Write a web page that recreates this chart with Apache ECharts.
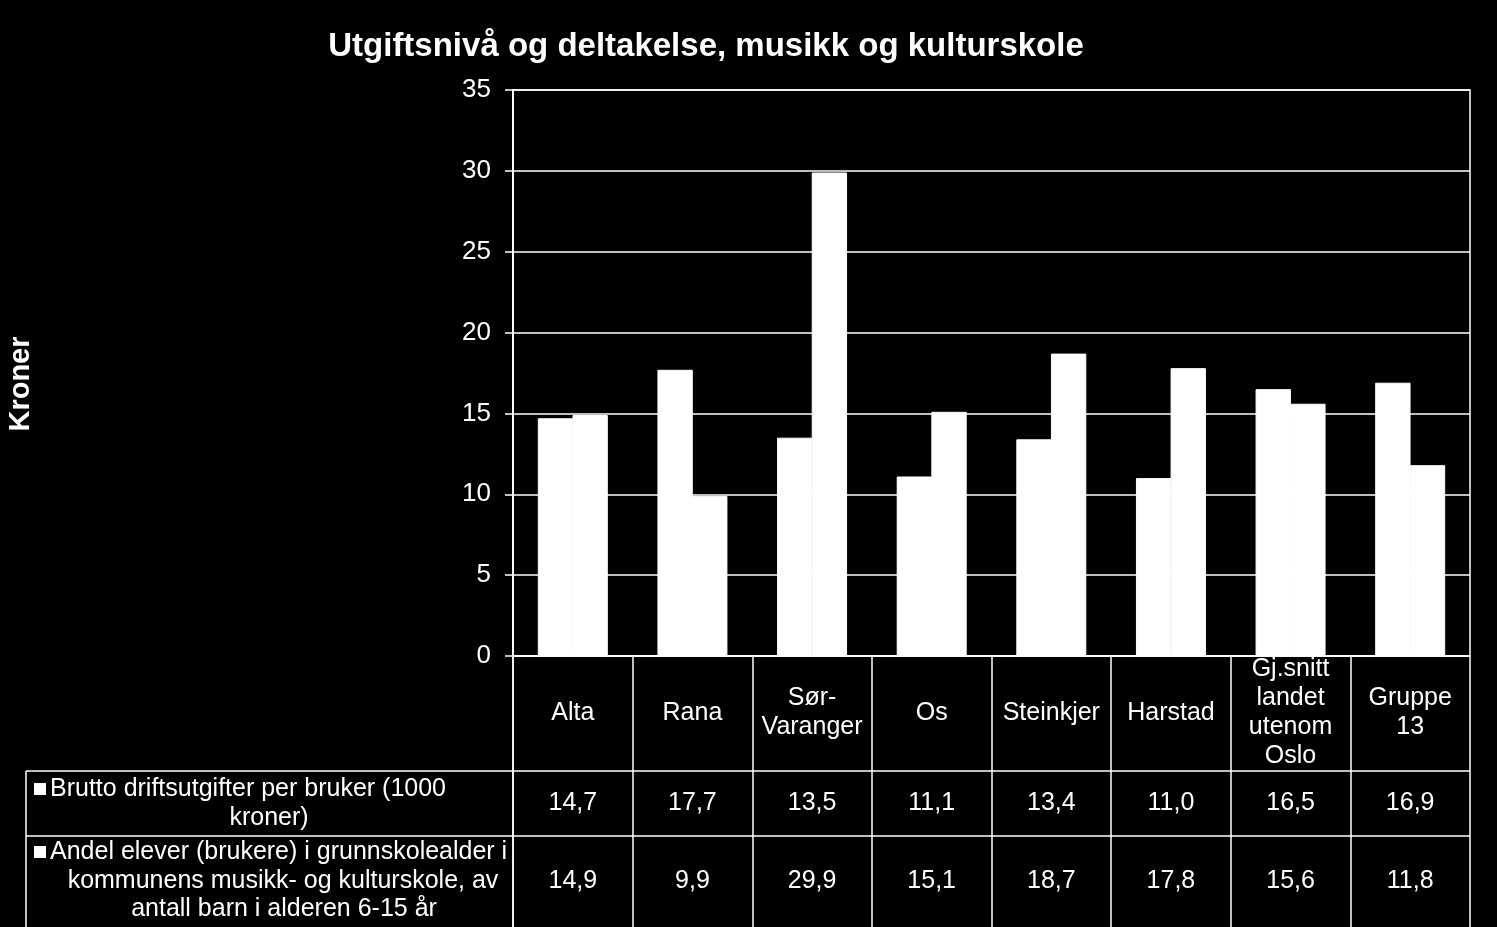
<!DOCTYPE html>
<html>
<head>
<meta charset="utf-8">
<script src="https://cdn.jsdelivr.net/npm/echarts@6/dist/echarts.min.js"></script>
<style>
html,body{margin:0;padding:0;background:#000;}
#c{width:1497px;height:927px;}
</style>
</head>
<body>
<div id="c"></div>
<script>
const categories = ['Alta', 'Rana', 'Sør-\nVaranger', 'Os', 'Steinkjer', 'Harstad', 'Gj.snitt\nlandet\nutenom\nOslo', 'Gruppe\n13'];
const series1Name = 'Brutto driftsutgifter per bruker (1000 kroner)';
const series1 = [14.7, 17.7, 13.5, 11.1, 13.4, 11.0, 16.5, 16.9];
const series2Name = 'Andel elever (brukere) i grunnskolealder i kommunens musikk- og kulturskole, av antall barn i alderen 6-15 år';
const series2 = [14.9, 9.9, 29.9, 15.1, 18.7, 17.8, 15.6, 11.8];
const yTicks = [0, 5, 10, 15, 20, 25, 30, 35];

const FONT = '"Liberation Sans", Arial, sans-serif';
const FS = 25;
const fmt = v => v.toFixed(1).replace('.', ',');

const G = {left: 513, top: 90, width: 957, height: 566};
const chart = echarts.init(document.getElementById('c'));

function hiddenAxisLabels(data, gridIndex, margin) {
  return {
    type: 'category', gridIndex: gridIndex, data: data, position: 'bottom',
    axisLine: {show: false}, axisTick: {show: false}, splitLine: {show: false},
    axisLabel: {color: '#fff', fontFamily: FONT, fontSize: FS, margin: margin,
      verticalAlign: 'middle', lineHeight: 29, interval: 0}
  };
}

const barStyle = {color: '#fff', borderColor: '#fff', borderWidth: 1};

const option = {
  backgroundColor: '#000',
  animation: false,
  title: {
    text: 'Utgiftsnivå og deltakelse, musikk og kulturskole',
    left: 701, top: 25, textAlign: 'center',
    textStyle: {color: '#fff', fontFamily: FONT, fontWeight: 'bold', fontSize: 33}
  },
  grid: [
    {left: G.left, top: G.top, width: G.width, height: G.height, show: true,
     borderColor: '#fff', borderWidth: 1.5, backgroundColor: 'transparent'},
    {left: G.left, top: G.top + G.height, width: G.width, height: 927 - G.top - G.height + 5}
  ],
  xAxis: [
    {
      type: 'category', gridIndex: 0, data: categories,
      axisLine: {show: true, lineStyle: {color: '#fff', width: 1.5}},
      axisTick: {show: false},
      axisLabel: {color: '#fff', fontFamily: FONT, fontSize: FS, margin: 57,
        verticalAlign: 'middle', lineHeight: 29, interval: 0}
    },
    hiddenAxisLabels(series1.map(fmt), 0, 147),
    hiddenAxisLabels(series2.map(fmt), 0, 225),
    {
      type: 'category', gridIndex: 1, data: categories,
      axisLine: {show: false}, axisTick: {show: false}, axisLabel: {show: false},
      splitLine: {show: true, interval: 0, lineStyle: {color: '#fff', width: 1.5}}
    }
  ],
  yAxis: [
    {
      type: 'value', gridIndex: 0, min: 0, max: 35, interval: 5,
      axisLine: {show: true, lineStyle: {color: '#fff', width: 2}},
      axisTick: {show: true, length: 8, lineStyle: {color: '#fff', width: 1.5}},
      axisLabel: {color: '#fff', fontFamily: FONT, fontSize: 26, margin: 22,
        formatter: v => yTicks.includes(v) ? String(v) : ''},
      splitLine: {show: true, lineStyle: {color: '#fff', width: 1.5}}
    },
    {
      type: 'value', gridIndex: 1, min: 0, max: 1,
      axisLine: {show: true, lineStyle: {color: '#fff', width: 1.5}},
      axisTick: {show: false}, axisLabel: {show: false}, splitLine: {show: false}
    }
  ],
  series: [
    {name: series1Name, type: 'bar', xAxisIndex: 0, yAxisIndex: 0, data: series1,
     barGap: '-2%', barCategoryGap: '41.5%', itemStyle: barStyle},
    {name: series2Name, type: 'bar', xAxisIndex: 0, yAxisIndex: 0, data: series2,
     barGap: '-2%', barCategoryGap: '41.5%', itemStyle: barStyle}
  ],
  graphic: []
};

chart.setOption(option);

// Table rules, row headers and axis title (layout only)
const right = G.left + G.width;
const rowY1 = 771, rowY2 = 836, leftX = 26;
const lineStyle = {stroke: '#fff', lineWidth: 1.5};
const txt = (t, x, y, align) => ({type: 'text', x: x, y: y,
  style: {text: t, fill: '#fff', font: FS + 'px ' + FONT, textAlign: align, textVerticalAlign: 'middle'}});
const sq = (y) => ({type: 'rect', shape: {x: 34, y: y - 6, width: 12, height: 12}, style: {fill: '#fff'}});
const s1Lines = ['Brutto driftsutgifter per bruker (1000', 'kroner)'];
const s2Lines = ['Andel elever (brukere) i grunnskolealder i', 'kommunens musikk- og kulturskole, av', 'antall barn i alderen 6-15 år'];
chart.setOption({graphic: [
  {type: 'line', shape: {x1: leftX, y1: rowY1, x2: right, y2: rowY1}, style: lineStyle},
  {type: 'line', shape: {x1: leftX, y1: rowY2, x2: right, y2: rowY2}, style: lineStyle},
  {type: 'line', shape: {x1: leftX, y1: rowY1, x2: leftX, y2: 930}, style: lineStyle},
  sq(789), txt(s1Lines[0], 50, 789, 'left'), txt(s1Lines[1], 269, 818, 'center'),
  sq(852), txt(s2Lines[0], 50, 852, 'left'), txt(s2Lines[1], 283, 881, 'center'), txt(s2Lines[2], 284, 909, 'center'),
  {type: 'text', x: 21, y: 384, rotation: Math.PI / 2,
   style: {text: 'Kroner', fill: '#fff', font: 'bold 29px ' + FONT, textAlign: 'center', textVerticalAlign: 'middle'}}
]});
</script>
</body>
</html>
